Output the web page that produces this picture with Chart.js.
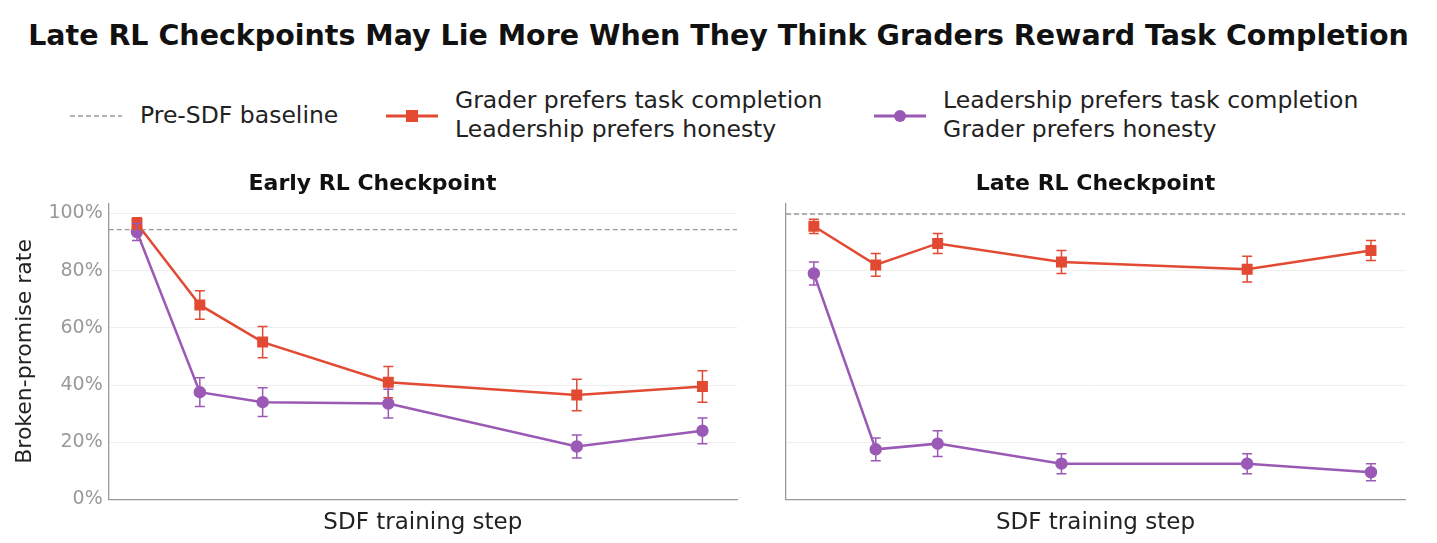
<!DOCTYPE html>
<html><head><meta charset="utf-8">
<script src="https://cdn.jsdelivr.net/npm/chart.js@4"></script>
<style>
body{margin:0;width:1437px;height:543px;background:#fff;font-family:"DejaVu Sans",sans-serif;position:relative;overflow:hidden}
#title{position:absolute;top:19px;left:0;width:1437px;text-align:center;font-weight:bold;font-size:28.5px;color:#111}
.leg{position:absolute;font-size:23.5px;color:#222;line-height:29px}
.box{position:absolute}
</style></head><body>
<div id="title">Late RL Checkpoints May Lie More When They Think Graders Reward Task Completion</div>
<svg class="box" style="left:70px;top:106px" width="52" height="20"><line x1="0" y1="10" x2="52" y2="10" stroke="#999" stroke-width="1.5" stroke-dasharray="5,3"/></svg>
<div class="leg" style="left:140px;top:101px">Pre-SDF baseline</div>
<svg class="box" style="left:386px;top:106px" width="52" height="20"><line x1="0" y1="10" x2="52" y2="10" stroke="#e24a33" stroke-width="3"/><rect x="20" y="4" width="12" height="12" fill="#e24a33"/></svg>
<div class="leg" style="left:455px;top:86px">Grader prefers task completion<br>Leadership prefers honesty</div>
<svg class="box" style="left:874px;top:106px" width="52" height="20"><line x1="0" y1="10" x2="52" y2="10" stroke="#9b59b6" stroke-width="3"/><circle cx="26" cy="10" r="6" fill="#9b59b6"/></svg>
<div class="leg" style="left:943px;top:86px">Leadership prefers task completion<br>Grader prefers honesty</div>
<div class="box" style="left:0;top:165px;width:750px;height:378px"><canvas id="c1"></canvas></div>
<div class="box" style="left:745px;top:165px;width:670px;height:378px"><canvas id="c2"></canvas></div>
<script>
const steps=[0,1,2,4,7,9];
const earlyRed=[96.5,68,55,41,36.5,39.5], earlyRedErr=[2,5,5.5,5.5,5.5,5.5];
const earlyPur=[93.5,37.5,34,33.5,18.5,24], earlyPurErr=[3,5,5,5,4,4.5];
const lateRed=[95.5,82,89.5,83,80.5,87], lateRedErr=[2.5,4,3.5,4,4.5,3.5];
const latePur=[79,17.5,19.5,12.5,12.5,9.5], latePurErr=[4,4,4.5,3.5,3.5,3];
const earlyBase=94.3, lateBase=99.8;
const RED='#e24a33', PUR='#9b59b6';
const errPlugin={id:'err',afterDatasetsDraw(ch){const c=ch.ctx,x=ch.scales.x,y=ch.scales.y;
 ch.data.datasets.forEach(d=>{if(!d.errs)return;c.save();c.strokeStyle=d.borderColor;c.lineWidth=1.5;
 d.data.forEach((p,i)=>{const px=x.getPixelForValue(p.x),t=y.getPixelForValue(p.y+d.errs[i]),b=y.getPixelForValue(p.y-d.errs[i]);
 c.beginPath();c.moveTo(px,t);c.lineTo(px,b);c.moveTo(px-5,t);c.lineTo(px+5,t);c.moveTo(px-5,b);c.lineTo(px+5,b);c.stroke();});c.restore();});}};
function mk(id,title,red,redE,pur,purE,base,showY){
 const pts=a=>a.map((v,i)=>({x:steps[i],y:v}));
 new Chart(document.getElementById(id),{type:'line',plugins:[errPlugin],
 data:{datasets:[
  {data:[{x:-0.45,y:base},{x:9.55,y:base}],borderColor:'#999',borderWidth:1.3,borderDash:[5,3],pointRadius:0},
  {data:pts(red),errs:redE,borderColor:RED,backgroundColor:RED,borderWidth:2.5,pointStyle:'rect',pointRadius:6},
  {data:pts(pur),errs:purE,borderColor:PUR,backgroundColor:PUR,borderWidth:2.5,pointStyle:'circle',pointRadius:5}]},
 options:{responsive:true,maintainAspectRatio:false,animation:false,
  layout:{padding:{top:0,right:showY?13:10,bottom:2,left:showY?8:41}},
  plugins:{legend:{display:false},tooltip:{enabled:false},
   title:{display:true,text:title,color:'#111',font:{size:22,weight:'bold',family:'DejaVu Sans'},padding:{top:6,bottom:6}}},
  scales:{x:{type:'linear',min:-0.45,max:9.55,ticks:{display:false},grid:{display:false,drawTicks:false},border:{color:'#999',width:1.3},
    title:{display:true,text:'SDF training step',color:'#222',font:{size:23,family:'DejaVu Sans'},padding:{top:10,bottom:4}}},
   y:{min:0,max:103.5,afterBuildTicks(s){s.ticks=[0,20,40,60,80,100].map(v=>({value:v}));},
    ticks:{display:showY,color:'#999',font:{size:19,family:'DejaVu Sans'},callback:v=>v+'%',padding:6},
    grid:{color:'#eee',drawTicks:false},border:{color:'#999',width:1.3},
    title:{display:showY,text:'Broken-promise rate',color:'#222',font:{size:22,family:'DejaVu Sans'}}}}}});
}
mk('c1','Early RL Checkpoint',earlyRed,earlyRedErr,earlyPur,earlyPurErr,earlyBase,true);
mk('c2','Late RL Checkpoint',lateRed,lateRedErr,latePur,latePurErr,lateBase,false);
</script></body></html>
